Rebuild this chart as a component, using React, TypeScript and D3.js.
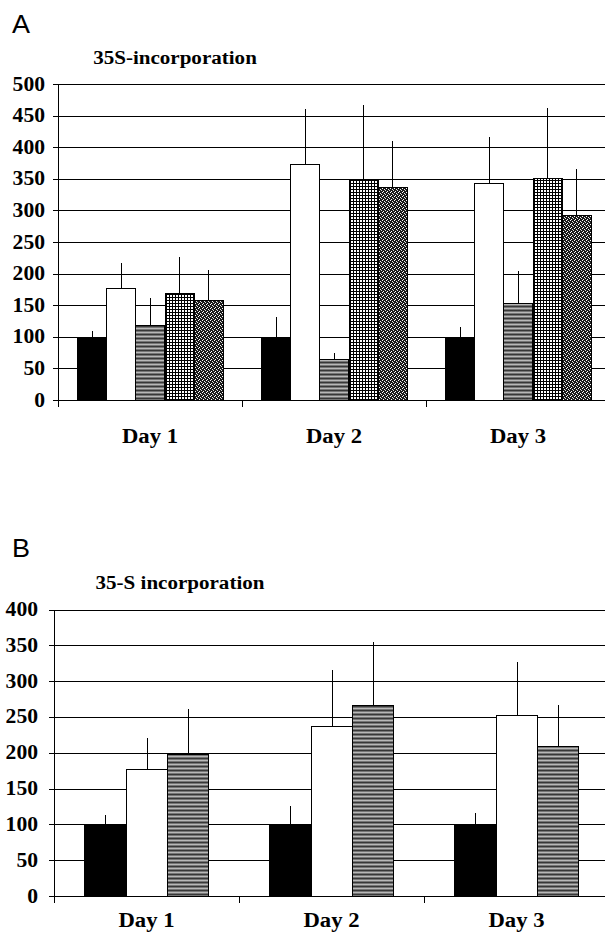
import * as d3 from "d3";

const days = ["Day 1", "Day 2", "Day 3"];

// panel A: five treatments per day
const seriesA = ["control", "open", "hlines", "grid", "dots"];
const valuesA = [
  [100, 177, 118, 169, 158],
  [100, 373, 65, 348, 337],
  [100, 343, 153, 352, 292],
];
const errorsA = [
  [9, 40, 44, 57, 48],
  [31, 87, 10, 119, 73],
  [16, 73, 51, 110, 73],
];
const ticksA = [0, 50, 100, 150, 200, 250, 300, 350, 400, 450, 500];

// panel B: three treatments per day
const seriesB = ["control", "open", "hlines"];
const valuesB = [
  [100, 178, 198],
  [100, 238, 267],
  [100, 253, 209],
];
const errorsB = [
  [13, 43, 63],
  [25, 77, 88],
  [16, 74, 58],
];
const ticksB = [0, 50, 100, 150, 200, 250, 300, 350, 400];

const fills: Record<string, string> = {
  control: "#000",
  open: "#fff",
  hlines: "url(#hlines)",
  grid: "url(#grid)",
  dots: "url(#dots)",
};

const SERIF = "'Liberation Serif', 'Times New Roman', serif";
const SANS = "'Liberation Sans', Arial, sans-serif";
const SX = 1.08; // the scan is stretched sideways a little

const Txt = ({ x, y, anchor = "start", size, family = SERIF, weight = "bold", children }: any) => (
  <text
    transform={`translate(${x},${y}) scale(${SX},1)`}
    textAnchor={anchor}
    fontSize={size}
    fontFamily={family}
    fontWeight={weight}
    fill="#000"
  >
    {children}
  </text>
);

const Panel = ({ letter, letterY, title, titleX, titleY, series, values, errors, ticks, xRange, yRange, outer, labelEnd, dayY }: any) => {
  const x = d3.scaleBand().domain(days).range(xRange).padding(0);
  const inner = d3.scaleBand().domain(series).range([0, x.bandwidth()]).paddingInner(0).paddingOuter(outer);
  const y = d3.scaleLinear().domain([0, ticks[ticks.length - 1]]).range(yRange);
  const x0 = Math.round(xRange[0]) + 0.5;
  const yBase = Math.round(y(0)) + 0.5;

  return (
    <g>
      <Txt x={12} y={letterY} size={25} family={SANS} weight="normal">{letter}</Txt>
      <Txt x={titleX} y={titleY} anchor="middle" size={19.5}>{title}</Txt>

      {ticks.map((t: number) => (
        <g key={t}>
          <line x1={x0 - 6} x2={605} y1={Math.round(y(t)) + 0.5} y2={Math.round(y(t)) + 0.5} stroke="#000" strokeWidth={1} />
          <Txt x={labelEnd} y={y(t) + 6.5} anchor="end" size={20}>{t}</Txt>
        </g>
      ))}

      {days.map((day, i) => (
        <g key={day} transform={`translate(${x(day)},0)`}>
          {series.map((s: string, j: number) => {
            const v = values[i][j];
            const bx = inner(s)!;
            const cx = Math.round(bx + inner.bandwidth() / 2) + 0.5;
            return (
              <g key={s}>
                <line x1={cx} x2={cx} y1={y(v)} y2={y(v + errors[i][j])} stroke="#000" strokeWidth={1} />
                <rect
                  x={Math.round(bx) + 0.5}
                  y={Math.round(y(v)) + 0.5}
                  width={Math.round(inner.bandwidth())}
                  height={yBase - Math.round(y(v)) - 0.5}
                  fill={fills[s]}
                  stroke="#000"
                  strokeWidth={1}
                />
              </g>
            );
          })}
          <Txt x={x.bandwidth() / 2} y={dayY} anchor="middle" size={21}>{day}</Txt>
        </g>
      ))}

      {/* category separator ticks */}
      {days.map((day) => (
        <line key={day} x1={Math.round(x(day)!) + 0.5} x2={Math.round(x(day)!) + 0.5} y1={yBase} y2={yBase + 6} stroke="#000" />
      ))}
      <line x1={x0} x2={605} y1={yBase} y2={yBase} stroke="#000" strokeWidth={1} />
      <line x1={x0} x2={x0} y1={Math.round(y(ticks[ticks.length - 1]))} y2={yBase + 6} stroke="#000" strokeWidth={1} />
    </g>
  );
};

export default function App() {
  return (
    <svg width={605} height={932} style={{ position: "absolute", left: 0, top: 0, background: "#fff" }} shapeRendering="crispEdges">
      <defs>
        <pattern id="hlines" width={4} height={4} patternUnits="userSpaceOnUse">
          <rect width={4} height={4} fill="#767676" />
          <rect y={0} width={4} height={1} fill="#b8b8b8" />
          <rect y={2} width={4} height={1} fill="#383838" />
        </pattern>
        <pattern id="grid" width={3} height={3} patternUnits="userSpaceOnUse">
          <rect width={3} height={3} fill="#fff" />
          <rect width={1} height={3} fill="#000" />
          <rect width={3} height={1} fill="#000" />
        </pattern>
        <pattern id="dots" width={4} height={4} patternUnits="userSpaceOnUse">
          <rect width={4} height={4} fill="#1a1a1a" />
          <rect x={0} y={0} width={1} height={1} fill="#fff" />
          <rect x={2} y={1} width={1} height={1} fill="#eee" />
          <rect x={1} y={3} width={1} height={1} fill="#fff" />
          <rect x={3} y={2} width={1} height={1} fill="#ddd" />
        </pattern>
      </defs>
      <Panel
        letter="A" letterY={33}
        title="35S-incorporation" titleX={175} titleY={64}
        series={seriesA} values={valuesA} errors={errorsA} ticks={ticksA}
        xRange={[58, 610]} yRange={[400, 84]} outer={0.67}
        labelEnd={45} dayY={443}
      />
      <Panel
        letter="B" letterY={557}
        title="35-S incorporation" titleX={180} titleY={589}
        series={seriesB} values={valuesB} errors={errorsB} ticks={ticksB}
        xRange={[54, 609]} yRange={[896, 609.5]} outer={0.73}
        labelEnd={38} dayY={927}
      />
    </svg>
  );
}
